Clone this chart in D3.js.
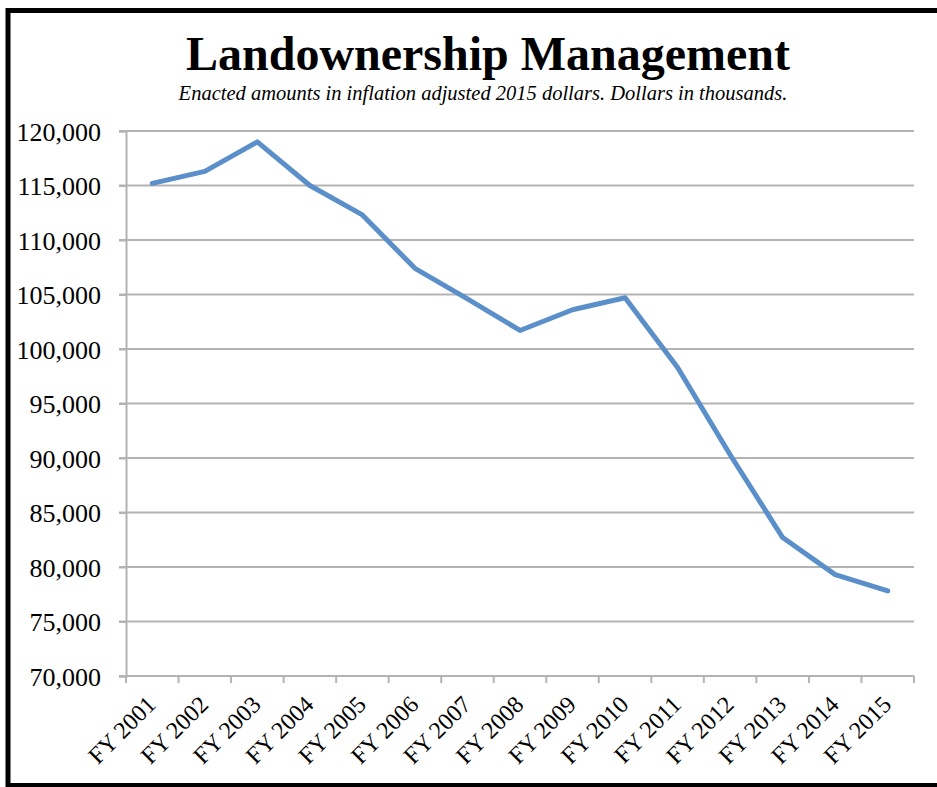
<!DOCTYPE html>
<html>
<head>
<meta charset="utf-8">
<script src="https://cdn.jsdelivr.net/npm/d3@7"></script>
<style>
  body { margin: 0; background: #fff; }
  svg text { font-family: "Liberation Serif", "Times New Roman", serif; }
</style>
</head>
<body>
<div id="chart"></div>
<script>
// data
var years = ["FY 2001", "FY 2002", "FY 2003", "FY 2004", "FY 2005", "FY 2006", "FY 2007", "FY 2008",
             "FY 2009", "FY 2010", "FY 2011", "FY 2012", "FY 2013", "FY 2014", "FY 2015"];
var amounts = [115200, 116300, 119000, 115000, 112300, 107400, 104600, 101700,
               103600, 104700, 98300, 90300, 82700, 79300, 77800];
var yTicks = [70000, 75000, 80000, 85000, 90000, 95000, 100000, 105000, 110000, 115000, 120000];

var width = 937, height = 787;
var margin = {top: 131, right: 23, bottom: 111, left: 126};
var innerW = width - margin.left - margin.right;
var innerH = height - margin.top - margin.bottom;

var svg = d3.select("#chart").append("svg")
    .attr("width", width)
    .attr("height", height);

// outer frame
svg.append("rect")
    .attr("x", 8).attr("y", 10.5)
    .attr("width", 945).attr("height", 775)
    .attr("fill", "none")
    .attr("stroke", "#000")
    .attr("stroke-width", 5);

// title
svg.append("text")
    .attr("x", 488).attr("y", 70)
    .attr("text-anchor", "middle")
    .attr("font-family", "Liberation Serif")
    .style("font-size", "48px")
    .style("font-weight", "bold")
    .text("Landownership Management");

svg.append("text")
    .attr("x", 483).attr("y", 100)
    .attr("text-anchor", "middle")
    .attr("font-family", "Liberation Serif")
    .style("font-size", "20.5px")
    .style("font-style", "italic")
    .text("Enacted amounts in inflation adjusted 2015 dollars. Dollars in thousands.");

var g = svg.append("g")
    .attr("transform", "translate(" + margin.left + "," + margin.top + ")");

// scales
var x = d3.scaleBand()
    .domain(years)
    .range([0, innerW]);
var y = d3.scaleLinear()
    .domain([70000, 120000])
    .range([innerH, 0]);

// gridlines
g.selectAll(".grid")
    .data(yTicks)
    .enter()
    .append("line")
    .attr("class", "grid")
    .attr("x1", -7)
    .attr("x2", innerW)
    .attr("y1", function (d) { return y(d); })
    .attr("y2", function (d) { return y(d); })
    .attr("stroke", "#b3b3b3")
    .attr("stroke-width", 2);

// y axis
var yAxis = g.append("g")
    .call(d3.axisLeft(y).tickValues(yTicks).tickFormat(d3.format(",")).tickSize(7));
yAxis.attr("font-family", "Liberation Serif");
yAxis.select(".domain").attr("stroke", "#b3b3b3").attr("stroke-width", 2);
yAxis.selectAll(".tick line").attr("stroke", "#b3b3b3").attr("stroke-width", 2);
yAxis.selectAll("text")
    .attr("x", -25)
    .attr("dy", "0.36em")
    .style("font-size", "26px")
    .attr("fill", "#000");

// x axis: ticks on band edges
var xAxis = g.append("g")
    .attr("transform", "translate(0," + innerH + ")");
xAxis.append("line")
    .attr("x1", 0).attr("x2", innerW)
    .attr("stroke", "#b3b3b3").attr("stroke-width", 2);
var edges = years.map(function (d) { return x(d); }).concat([innerW]);
xAxis.selectAll(".xt")
    .data(edges)
    .enter()
    .append("line")
    .attr("class", "xt")
    .attr("x1", function (d) { return d; })
    .attr("x2", function (d) { return d; })
    .attr("y1", 0).attr("y2", 7)
    .attr("stroke", "#b3b3b3").attr("stroke-width", 2);
xAxis.selectAll(".xl")
    .data(years)
    .enter()
    .append("text")
    .attr("class", "xl")
    .attr("text-anchor", "end")
    .attr("font-family", "Liberation Serif")
    .attr("transform", function (d) {
        return "translate(" + (x(d) + x.bandwidth() / 2 + 5) + ",30) rotate(-45)";
    })
    .style("font-size", "24px")
    .text(function (d) { return d; });

// the line
var line = d3.line()
    .x(function (d, i) { return x(years[i]) + x.bandwidth() / 2; })
    .y(function (d) { return y(d); });

g.append("path")
    .datum(amounts)
    .attr("d", line)
    .attr("fill", "none")
    .attr("stroke", "#5b8fc9")
    .attr("stroke-width", 5)
    .attr("stroke-linejoin", "round")
    .attr("stroke-linecap", "round");
</script>
</body>
</html>
